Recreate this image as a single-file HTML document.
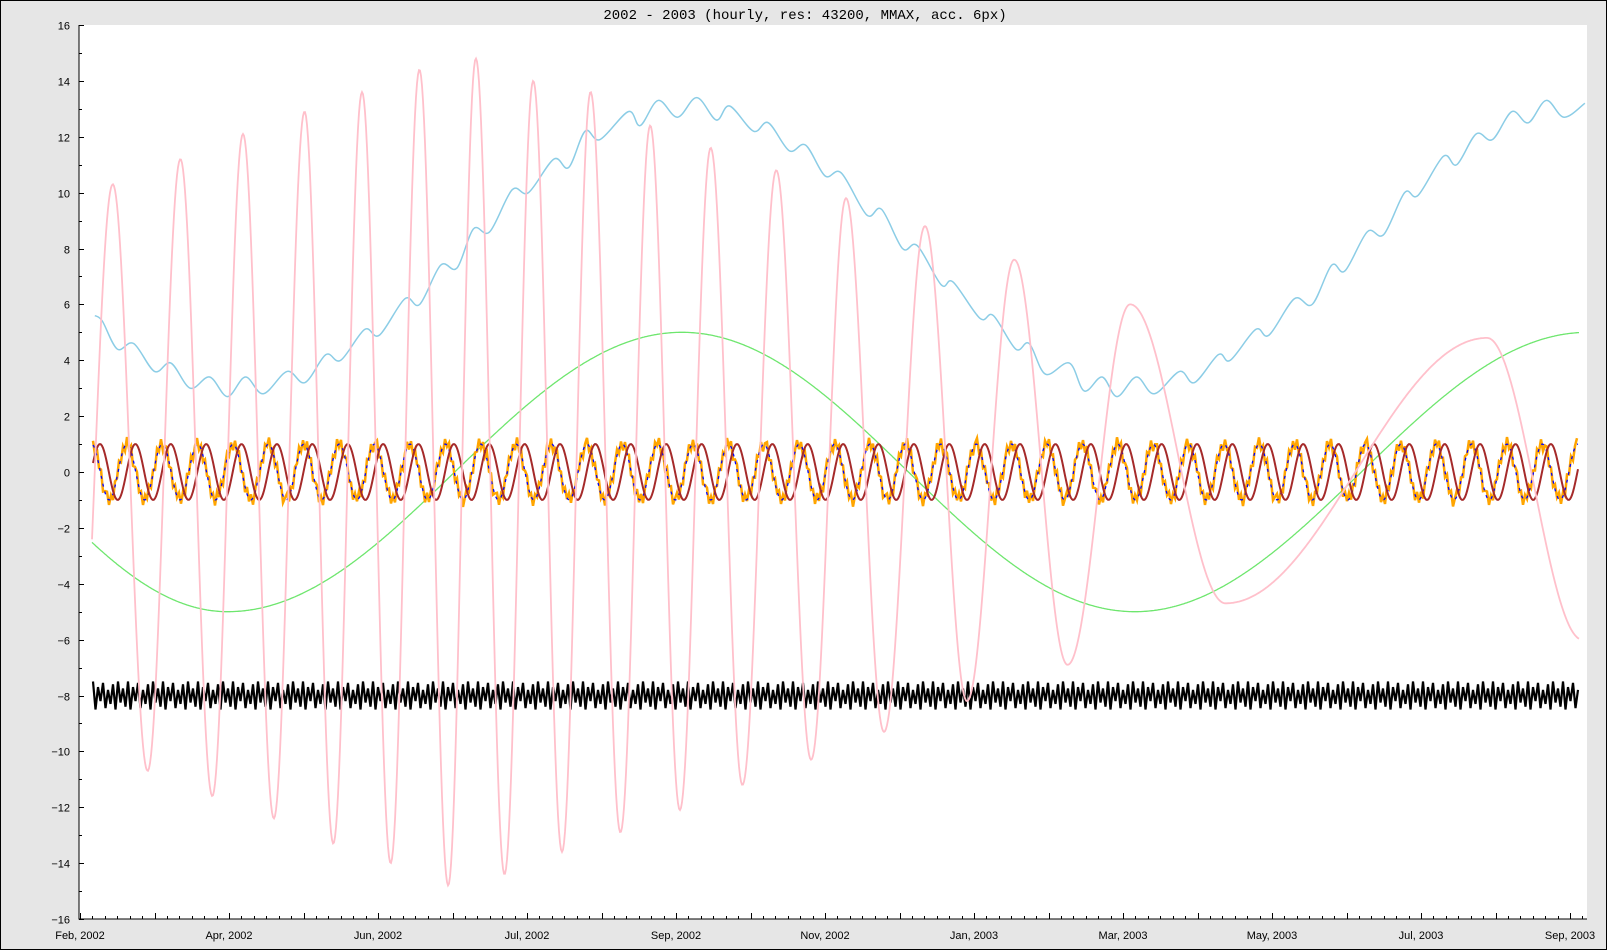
<!DOCTYPE html>
<html><head><meta charset="utf-8">
<style>
html,body{margin:0;padding:0;background:#e6e6e6;}
svg{display:block;}
</style></head>
<body>
<svg id="chart" width="1607" height="950" xmlns="http://www.w3.org/2000/svg">
<rect x="0.5" y="0.5" width="1606" height="949" fill="#e6e6e6" stroke="#000"/>
<text x="805" y="19" text-anchor="middle" font-family="Liberation Mono, monospace" font-size="14">2002 - 2003 (hourly, res: 43200, MMAX, acc. 6px)</text>
<rect x="79" y="25" width="1508" height="894" fill="#fff"/>
<defs><clipPath id="clip"><rect x="79" y="25" width="1508" height="894"/></clipPath></defs>
<g id="series" clip-path="url(#clip)"></g>
<g id="axes"></g>
</svg>
<script>
// ---- data ----
const xLabels = ["Feb, 2002","Apr, 2002","Jun, 2002","Jul, 2002","Sep, 2002","Nov, 2002","Jan, 2003","Mar, 2003","May, 2003","Jul, 2003","Sep, 2003"];
const yTicks = [16,14,12,10,8,6,4,2,0,-2,-4,-6,-8,-10,-12,-14,-16];
// pink: extrema (u = label index position)
const pinkU = [-0.02,0.22,0.454,0.674,0.888,1.094,1.301,1.507,1.70,1.893,2.085,2.278,2.471,2.657,2.849,3.042,3.235,3.427,3.627,3.827,4.026,4.233,4.446,4.673,4.907,5.141,5.396,5.671,5.953,6.27,6.628,7.048,7.688,9.443,10.083];
const pinkV = [-10.0,10.3,-10.7,11.2,-11.6,12.1,-12.4,12.9,-13.3,13.6,-14.0,14.4,-14.8,14.8,-14.4,14.0,-13.6,13.6,-12.9,12.4,-12.1,11.6,-11.2,10.8,-10.3,9.8,-9.3,8.8,-8.2,7.6,-6.9,6.0,-4.7,4.8,-6.0];
// green: extrema
const greenU = [-1.75,0.99,4.04,7.08,10.12];
const greenV = [5,-5,5,-5,5];
// light blue
const cyanU = [0.10,0.15,0.25,0.36,0.50,0.61,0.74,0.87,0.99,1.11,1.23,1.39,1.51,1.65,1.75,1.91,2.01,2.18,2.28,2.42,2.53,2.64,2.75,2.90,3.01,3.18,3.28,3.39,3.49,3.68,3.76,3.88,4.01,4.14,4.27,4.36,4.52,4.62,4.76,4.87,5.00,5.11,5.28,5.38,5.52,5.62,5.78,5.86,6.04,6.13,6.28,6.37,6.48,6.64,6.74,6.86,6.96,7.09,7.21,7.38,7.48,7.64,7.72,7.89,7.98,8.15,8.27,8.40,8.49,8.64,8.75,8.89,8.98,9.15,9.24,9.37,9.48,9.61,9.72,9.84,9.96,10.10];
const cyanV = [5.6,5.4,4.4,4.6,3.6,3.9,3.0,3.4,2.7,3.4,2.8,3.6,3.2,4.2,4.0,5.1,4.9,6.2,6.0,7.4,7.3,8.7,8.6,10.1,10.0,11.2,10.9,12.2,11.9,12.9,12.4,13.3,12.7,13.4,12.6,13.1,12.2,12.5,11.5,11.7,10.6,10.7,9.2,9.4,8.0,8.1,6.7,6.8,5.5,5.6,4.4,4.6,3.5,3.9,2.9,3.4,2.7,3.4,2.8,3.6,3.2,4.2,4.0,5.1,4.9,6.2,6.0,7.4,7.2,8.6,8.5,10.0,9.9,11.3,11.0,12.1,11.9,12.9,12.5,13.3,12.7,13.2];
// periodic series parameters (in u units)
const periodU = 0.2375, redPeakU = 0.134, bluePeakU = 0.077, waveAmp = 1;
const orangeNoise = [0.15,-0.2,0.25,-0.1,0.2,-0.25,0.05,0.22,-0.18,0.12,-0.22,0.18,-0.05,0.24,-0.15];
const blackHigh = [-7.5,-7.7,-7.55,-7.8,-7.6,-7.5,-7.75];
const blackLow = [-8.5,-8.2,-8.45,-8.3,-8.5,-8.25,-8.4];
const startU = 0.087, endU = 10.055;

// ---- axes ----
const X0 = 80, XS = 149, Y0 = 25, Y1 = 919;
const xp = u => X0 + XS * u;
const yp = v => Y0 + (16 - v) * (Y1 - Y0) / 32;
const NS = "http://www.w3.org/2000/svg";
const series = document.getElementById('series'), axes = document.getElementById('axes');
function mk(tag, attrs, parent){const e=document.createElementNS(NS,tag);for(const k in attrs)e.setAttribute(k,attrs[k]);parent.appendChild(e);return e;}

function cosPath(U,V){
  let d='';
  for(let i=0;i<U.length-1;i++){
    const a=xp(U[i]),b=xp(U[i+1]);
    for(let x=Math.floor(a);x<=b;x++){
      const t=(x-a)/(b-a);const k=(1-Math.cos(Math.PI*t))/2;
      const v=V[i]+(V[i+1]-V[i])*k;
      if(x<xp(startU)-1||x>xp(endU)+1)continue;
      d+=(d?'L':'M')+x+','+yp(v).toFixed(1);
    }
  }
  return d;
}
function crPath(U,V){
  const P=U.map((u,i)=>[xp(u),yp(V[i])]);
  let d='M'+P[0][0]+','+P[0][1];
  for(let i=0;i<P.length-1;i++){
    const p0=P[Math.max(0,i-1)],p1=P[i],p2=P[i+1],p3=P[Math.min(P.length-1,i+2)];
    const c1=[p1[0]+(p2[0]-p0[0])/6,p1[1]+(p2[1]-p0[1])/6];
    const c2=[p2[0]-(p3[0]-p1[0])/6,p2[1]-(p3[1]-p1[1])/6];
    d+='C'+c1.join(',')+' '+c2.join(',')+' '+p2.join(',');
  }
  return d;
}
function wavePath(peak,noise){
  let d='';let a=xp(startU),b=xp(endU);let n=0;
  for(let x=a;x<=b;x+=(noise?2:1)){
    const u=(x-X0)/XS;let v=waveAmp*Math.cos(2*Math.PI*(u-peak)/periodU);
    if(noise){v+=noise[n%noise.length];n++;}
    d+=(d?'L':'M')+x.toFixed(1)+','+yp(v).toFixed(1);
  }
  return d;
}
// green
let e=mk('path',{d:cosPath(greenU,greenV),fill:'none',stroke:'#6ee66e','stroke-width':1.3},series);


// cyan
e=mk('path',{d:crPath(cyanU,cyanV),fill:'none',stroke:'#8ccde6','stroke-width':1.5},series);


// black band
let bd='';{let a=xp(startU),b=xp(endU),i=0;for(let x=a;x<=b;x+=2.5,i++){const v=(i%2==0)?blackHigh[(i>>1)%blackHigh.length]:blackLow[(i>>1)%blackLow.length];bd+=(bd?'L':'M')+x.toFixed(1)+','+yp(v).toFixed(1);}}
e=mk('path',{d:bd,fill:'none',stroke:'#000','stroke-width':2.2},series);


// orange
e=mk('path',{d:wavePath(bluePeakU,orangeNoise),fill:'none',stroke:'#ffa500','stroke-width':2.5},series);


// blue
e=mk('path',{d:wavePath(bluePeakU,null),fill:'none',stroke:'#0000ff','stroke-width':1.3,'stroke-dasharray':'3,5'},series);


// red
e=mk('path',{d:wavePath(redPeakU,null),fill:'none',stroke:'#a52a2a','stroke-width':2},series);


// pink
e=mk('path',{d:cosPath(pinkU,pinkV),fill:'none',stroke:'#ffc0cb','stroke-width':1.8},series);



// axis lines
e=mk('path',{d:'M79,25V919H1587',fill:'none',stroke:'#000','stroke-width':1},axes);


let td='';
yTicks.forEach((v,i)=>{
  const y=Math.round(yp(v))+0.5;td+='M79,'+y+'h5';
  if(i<yTicks.length-1){const ym=Math.round(yp(v-1))+0.5;td+='M79,'+ym+'h3';}
  const t=mk('text',{x:70,y:y+4,'text-anchor':'end','font-family':'Liberation Sans, sans-serif','font-size':11},axes);
  t.textContent=v<0?'\u2212'+(-v):String(v);
  
  
});
for(let k=0;k<=20;k++){const x=Math.round(xp(k/2))+0.5;td+='M'+x+',919v-6';}
for(let k=0;k<=121;k++){const x=Math.round(xp(k/12))+0.5;if(x<1587)td+='M'+x+',919v-3';}
e=mk('path',{d:td,fill:'none',stroke:'#000','stroke-width':1},axes);


xLabels.forEach((l,i)=>{
  const t=mk('text',{x:xp(i),y:939,'text-anchor':'middle','font-family':'Liberation Sans, sans-serif','font-size':11},axes);
  t.textContent=l;
  
  
});
</script>
</body></html>
